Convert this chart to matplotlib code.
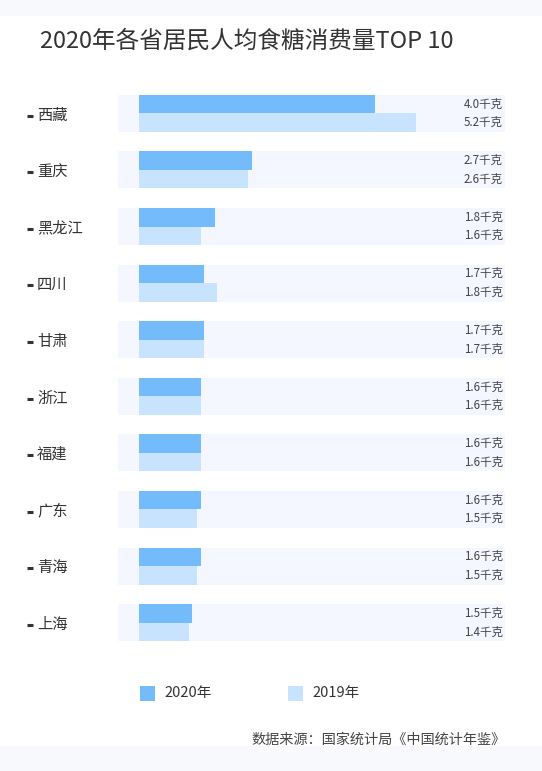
import matplotlib
matplotlib.use("Agg")
import matplotlib.pyplot as plt
import matplotlib.patches as mpatches
import numpy as np

plt.rcParams['font.family'] = ['Noto Sans CJK SC', 'DejaVu Sans']

# data
provinces = ['西藏', '重庆', '黑龙江', '四川', '甘肃', '浙江', '福建', '广东', '青海', '上海']
values_2020 = [4.0, 2.7, 1.8, 1.7, 1.7, 1.6, 1.6, 1.6, 1.6, 1.5]
values_2019 = [5.2, 2.6, 1.6, 1.8, 1.7, 1.6, 1.6, 1.5, 1.5, 1.4]
# bar lengths as drawn in the original chart (they don't follow the labels linearly)
bars_2020 = [6.09, 2.92, 1.95, 1.69, 1.68, 1.60, 1.60, 1.60, 1.60, 1.38]
bars_2019 = [7.14, 2.81, 1.61, 2.01, 1.68, 1.60, 1.60, 1.50, 1.50, 1.29]
series_names = ['2020年', '2019年']
unit = '千克'

title = '2020年各省居民人均食糖消费量TOP 10'
source = '数据来源：国家统计局《中国统计年鉴》'

# colours
c2020 = '#74bbfc'
c2019 = '#c8e3fd'
row_bg = '#f4f7ff'
band_bg = '#f8f9fd'
text_dark = '#333333'
text_mid = '#444444'

W, H = 542, 771
fig = plt.figure(figsize=(W / 100, H / 100), dpi=100)
fig.patch.set_facecolor('white')

# light bands at top and bottom of the card
fig.add_artist(mpatches.Rectangle((0, 1 - 16 / H), 1, 16 / H, transform=fig.transFigure,
                                  color=band_bg, lw=0, zorder=0))
fig.add_artist(mpatches.Rectangle((0, 0), 1, 25 / H, transform=fig.transFigure,
                                  color=band_bg, lw=0, zorder=0))

# axes occupies the row background area
ax_left, ax_right = 118, 505
ax_top, row_step = 85, 56.6
ax_bottom = ax_top + row_step * len(provinces)
ax = fig.add_axes([ax_left / W, 1 - ax_bottom / H, (ax_right - ax_left) / W, (ax_bottom - ax_top) / H])
ax.set_facecolor('none')

px_per_unit = 38.75
xmin = -21 / px_per_unit
xmax = (ax_right - ax_left - 21) / px_per_unit
ax.set_xlim(xmin, xmax)
ax.set_ylim(len(provinces) - 0.5, -0.5)

y = np.arange(len(provinces))
h = 18.5 / row_step

ax.barh(y, width=xmax - xmin, left=xmin, height=2 * h, color=row_bg, lw=0, zorder=1)
ax.barh(y - h / 2, bars_2020, height=h, color=c2020, lw=0, zorder=2)
ax.barh(y + h / 2, bars_2019, height=h, color=c2019, lw=0, zorder=2)

for i in range(len(provinces)):
    ax.text(xmax - 2 / px_per_unit, y[i] - h / 2, f'{values_2020[i]:.1f}{unit}',
            ha='right', va='center', fontsize=8.3, color=text_mid, zorder=3)
    ax.text(xmax - 2 / px_per_unit, y[i] + h / 2, f'{values_2019[i]:.1f}{unit}',
            ha='right', va='center', fontsize=8.3, color=text_mid, zorder=3)

# category labels with a small dash on the left
trans = ax.get_yaxis_transform()
for i, name in enumerate(provinces):
    ax.plot([(29.5 - ax_left) / (ax_right - ax_left)], [y[i] + 0.04], marker='_', markersize=5,
            mew=2.2, color=text_dark, transform=trans, clip_on=False)
    ax.text((37 - ax_left) / (ax_right - ax_left), y[i] + 0.03, name, transform=trans,
            ha='left', va='center', fontsize=11, color=text_dark)

for s in ax.spines.values():
    s.set_visible(False)
ax.set_xticks([])
ax.set_yticks([])

# title
fig.text(40 / W, 1 - 41 / H, title, ha='left', va='center', fontsize=17, color=text_dark)

# legend
for k, (name, col, x0) in enumerate(zip(series_names, [c2020, c2019], [140, 288])):
    fig.add_artist(mpatches.Rectangle((x0 / W, 1 - 701 / H), 15 / W, 15 / H,
                                      transform=fig.transFigure, color=col, lw=0))
    fig.text((x0 + 24) / W, 1 - 693.5 / H, name, ha='left', va='center',
             fontsize=10.5, color=text_dark)

# source
fig.text(506 / W, 1 - 740 / H, source, ha='right', va='center', fontsize=10.2, color=text_mid)

fig.savefig('out.png', dpi=100, facecolor=fig.get_facecolor())
